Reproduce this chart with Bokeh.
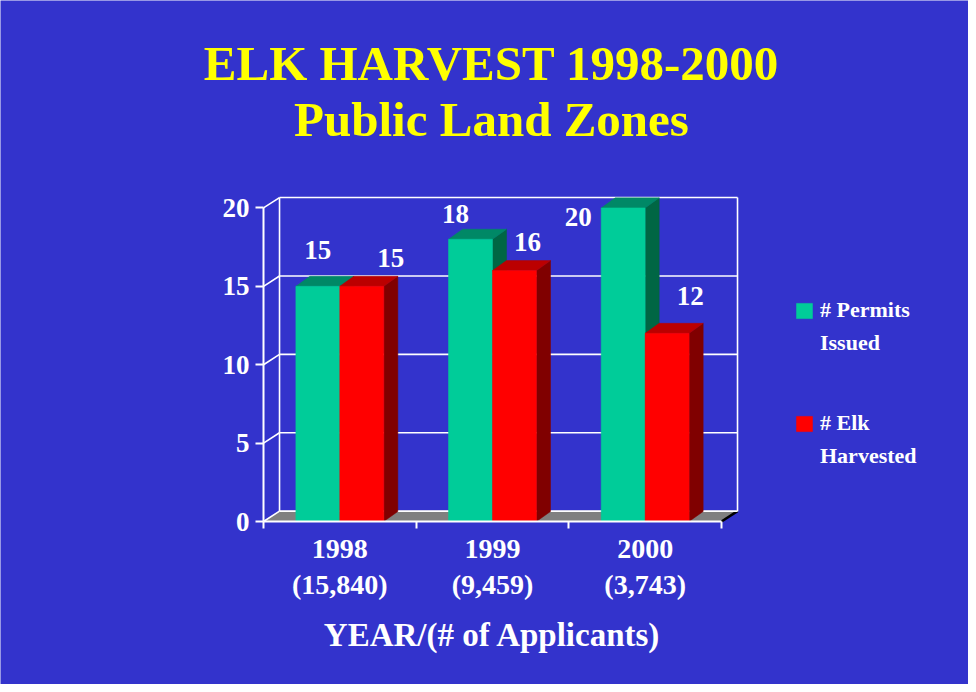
import numpy as np
from bokeh.plotting import figure
from bokeh.models import (LinearAxis, FixedTicker, Label, Legend, LegendItem,
                          ColumnDataSource, Range1d)
from bokeh.core.properties import value
from bokeh.embed import file_html
from bokeh.resources import INLINE

# ---------------- data ----------------
years = ["1998", "1999", "2000"]
applicants = ["(15,840)", "(9,459)", "(3,743)"]
permits = [15, 18, 20]
harvested = [15, 16, 12]
y_ticks = [0, 5, 10, 15, 20]
series_names = [["# Permits", "Issued"], ["# Elk", "Harvested"]]
title_lines = ["ELK HARVEST 1998-2000", "Public Land Zones"]
x_title = "YEAR/(# of Applicants)"

# ---------------- style ----------------
BG = "#3333CC"
FONT = "Liberation Serif"
TEAL = ("#00CC99", "#008866", "#006644")   # front, top, side
RED = ("#FF0000", "#BB0000", "#800000")
DX, DY = 0.105, 0.66     # back-wall depth (data units)
BDX, BDY = 0.092, 0.64   # bar depth (data units)
BW = 0.288               # bar width (data units)
# value-label pixel offsets from the top-centre of each bar [category][series]
label_dx = [[0, 29], [-15, 13], [-45, 23]]
label_dy = [[-36, -28], [-25, -29], [9, -37]]
legend_pos = [(794, 328), (794, 215)]
title_pos = [(491, 621), (491, 565)]

n = len(years)
p = figure(width=968, height=684,
           x_range=Range1d(-1.7227, 4.618), y_range=Range1d(-10.395, 33.227),
           x_axis_type=None, y_axis_type=None,
           toolbar_location=None, output_backend="svg",
           min_border_left=0, min_border_right=0,
           min_border_top=0, min_border_bottom=0,
           background_fill_color=BG, border_fill_color=BG,
           outline_line_color=None)

# floor
p.patch([0, n, n + DX, DX], [0, 0, DY, DY], fill_color="#808080", line_color="#808080")
p.line([n, n + DX], [0, DY], line_color="black", line_width=2.5)

# back wall grid and edges
wall_xs, wall_ys = [], []
for v in y_ticks:
    wall_xs.append([DX, n + DX]); wall_ys.append([v + DY, v + DY])
    wall_xs.append([0, DX]); wall_ys.append([v, v + DY])
wall_xs.append([DX, DX]); wall_ys.append([DY, y_ticks[-1] + DY])
wall_xs.append([n + DX, n + DX]); wall_ys.append([DY, y_ticks[-1] + DY])
p.multi_line(wall_xs, wall_ys, line_color="white", line_width=1.6)

# 3D bars
fronts = []
for s, (vals, cols) in enumerate([(permits, TEAL), (harvested, RED)]):
    x0 = np.arange(n) + 0.5 - BW + s * BW
    x1 = x0 + BW
    v = np.array(vals, dtype=float)
    side_xs = [[a, a + BDX, a + BDX, a] for a in x1]
    side_ys = [[0, BDY, h + BDY, h] for h in v]
    top_xs = [[a, b, b + BDX, a + BDX] for a, b in zip(x0, x1)]
    top_ys = [[h, h, h + BDY, h + BDY] for h in v]
    p.patches(side_xs, side_ys, fill_color=cols[2], line_color=cols[2], line_width=0.5)
    p.patches(top_xs, top_ys, fill_color=cols[1], line_color=cols[1], line_width=0.5)
    r = p.quad(left=x0, right=x1, bottom=0, top=v, fill_color=cols[0],
               line_color=cols[0], line_width=0.5)
    fronts.append(r)
    src = ColumnDataSource(dict(x=(x0 + x1) / 2, y=v, t=[str(int(h)) for h in vals],
                                dx=[label_dx[i][s] for i in range(n)],
                                dy=[label_dy[i][s] for i in range(n)]))
    p.text(x="x", y="y", text="t", x_offset="dx", y_offset="dy", source=src,
           text_align="center", text_baseline="middle", text_color="white",
           text_font=value(FONT), text_font_size="27px", text_font_style="bold")

# invisible renderer for the second line of each legend entry
blank = p.scatter(x=[], y=[], size=0, fill_alpha=0, line_alpha=0)

# axes (fixed at the front corner of the 3D box)
yax = LinearAxis(ticker=FixedTicker(ticks=y_ticks), bounds=(0, 20), fixed_location=0)
xax1 = LinearAxis(ticker=FixedTicker(ticks=[i + 0.5 for i in range(n)],
                                     minor_ticks=list(range(n + 1))),
                  bounds=(0, n), fixed_location=0,
                  major_label_overrides={i + 0.5: years[i] for i in range(n)})
xax2 = LinearAxis(ticker=FixedTicker(ticks=[i + 0.5 for i in range(n)]),
                  bounds=(0, n), fixed_location=0,
                  major_label_overrides={i + 0.5: applicants[i] for i in range(n)},
                  axis_label=x_title)
for ax in (yax, xax1, xax2):
    ax.axis_line_color = "white"
    ax.axis_line_width = 2
    ax.major_tick_line_color = "white"
    ax.major_tick_line_width = 2
    ax.major_tick_in = 0
    ax.major_tick_out = 8
    ax.minor_tick_line_color = None
    ax.major_label_text_color = "white"
    ax.major_label_text_font = FONT
    ax.major_label_text_font_size = "27px"
    ax.major_label_text_font_style = "bold"
    ax.major_label_standoff = 6
xax1.major_tick_line_color = None
xax1.major_tick_out = 0
xax1.minor_tick_line_color = "white"
xax1.minor_tick_line_width = 2
xax1.minor_tick_in = 0
xax1.minor_tick_out = 7
xax1.major_label_standoff = 11
xax1.major_label_text_font_size = "28px"
xax2.major_label_text_font_size = "28px"
xax2.axis_line_color = None
xax2.major_tick_line_color = None
xax2.major_tick_out = 0
xax2.major_label_standoff = 47
xax2.axis_label_text_color = "white"
xax2.axis_label_text_font = FONT
xax2.axis_label_text_font_size = "33px"
xax2.axis_label_text_font_style = "bold"
xax2.axis_label_standoff = 14
p.add_layout(yax, "left")
p.add_layout(xax1, "below")
p.add_layout(xax2, "below")

# legend: one block per series, first line carries the swatch
for s in range(2):
    items = [LegendItem(label=value(series_names[s][0]), renderers=[fronts[s]]),
             LegendItem(label=value(series_names[s][1]), renderers=[blank])]
    p.add_layout(Legend(items=items, location=legend_pos[s], orientation="vertical",
                        label_text_font=FONT, label_text_font_size="22px",
                        label_text_font_style="bold", label_text_color="white",
                        glyph_width=20, glyph_height=19, label_standoff=6,
                        spacing=7, padding=0, margin=0,
                        border_line_color=None, background_fill_alpha=0))

# title lines
for txt, (tx, ty) in zip(title_lines, title_pos):
    p.add_layout(Label(x=tx, y=ty, x_units="screen", y_units="screen", text=txt,
                       text_align="center", text_baseline="alphabetic",
                       text_font=FONT, text_font_size="49px", text_font_style="bold",
                       text_color="#FFFF00"))

open("out.html", "w").write(file_html(p, INLINE))
